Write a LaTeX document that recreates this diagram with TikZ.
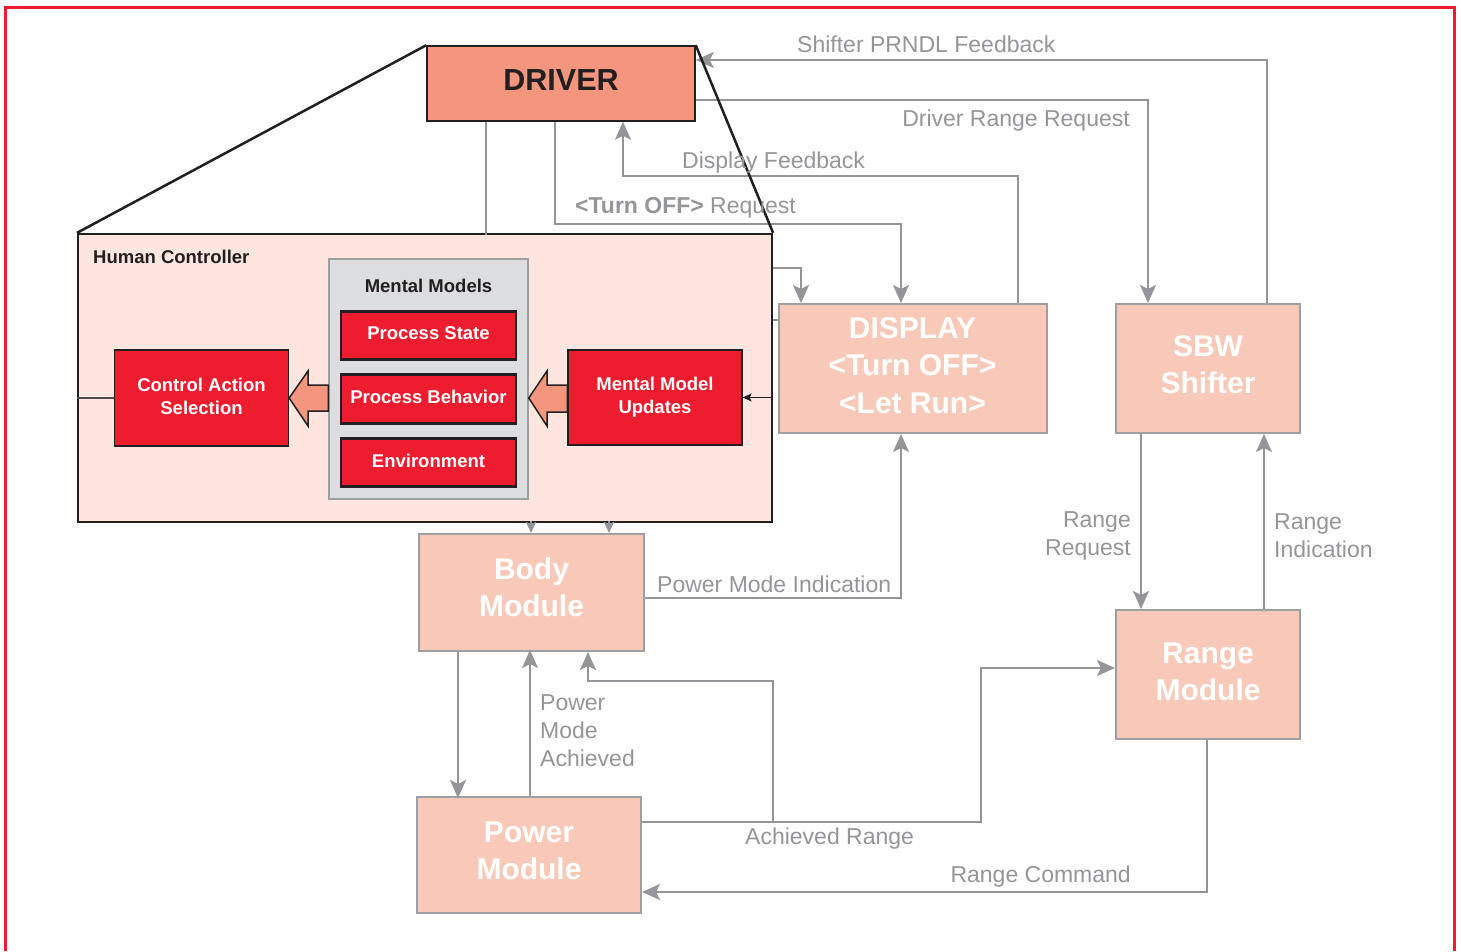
\documentclass[tikz,border=0pt]{standalone}
\usepackage{fontspec}
\setmainfont{Liberation Sans}
\usetikzlibrary{arrows.meta}

\definecolor{framered}{RGB}{237,28,46}
\definecolor{inkdark}{RGB}{35,31,32}
\definecolor{wiregray}{RGB}{147,149,152}
\definecolor{edgegray}{RGB}{157,159,162}
\definecolor{driverfill}{RGB}{244,150,126}
\definecolor{modfill}{RGB}{248,201,184}
\definecolor{hcfill}{RGB}{253,230,223}
\definecolor{mmfill}{RGB}{220,221,223}
\definecolor{actred}{RGB}{237,28,46}

\tikzset{
  % extra depth under the last text line moves the label up inside its box
  textlift/.style={execute at end node={\rule[-#1]{0pt}{0pt}}},
  modbox/.style={draw=edgegray, line width=2pt, fill=modfill, text=white,
    font=\bfseries\fontsize{30}{37}\selectfont, align=center, inner sep=0pt},
  redbox/.style={draw=inkdark, fill=actred, text=white,
    font=\bfseries\fontsize{18.5}{23}\selectfont, align=center, inner sep=0pt, textlift=4pt},
  conn/.style={draw=wiregray, line width=2.2pt},
  flow/.style={conn, -{Stealth[length=18pt,width=16pt,inset=4pt]}},
  stub/.style={conn, -{Stealth[length=11pt,width=10pt,inset=2pt]}},
  wlabel/.style={text=wiregray, font=\fontsize{23}{28}\selectfont, inner sep=0pt},
  blockarrow/.style={fill=driverfill, draw=inkdark, line width=1.5pt, line join=miter},
}

\begin{document}
\begin{tikzpicture}[x=1pt,y=-1pt]
\useasboundingbox (0,0) rectangle (1461,951);

% outer red frame (open at the bottom)
\draw[framered, line width=3pt] (5,951) -- (5,7) -- (1454,7) -- (1454,951);

% ---- human controller -------------------------------------------------
\node[draw=inkdark, line width=2.2pt, fill=hcfill, minimum width=694, minimum height=288,
      inner sep=0pt] (hc) at (425,378) {};
\node[anchor=base west, inner sep=0pt, text=inkdark,
      font=\bfseries\fontsize{18.5}{22}\selectfont] (hctitle) at (93,263) {Human Controller};

\node[draw=edgegray, line width=1.5pt, fill=mmfill, minimum width=199, minimum height=240,
      inner sep=0pt] (mm) at (428.5,379) {};
\node[anchor=base, inner sep=0pt, text=inkdark,
      font=\bfseries\fontsize{18.5}{22}\selectfont] (mmtitle) at (428.5,292) {Mental Models};

\node[redbox, line width=2.8pt, minimum width=175, minimum height=48] (ps)  at (428.5,335.5) {Process State};
\node[redbox, line width=2.8pt, minimum width=175, minimum height=49] (pb)  at (428.5,399) {Process Behavior};
\node[redbox, line width=2.8pt, minimum width=175, minimum height=48] (env) at (428.5,462.5) {Environment};

\node[redbox, line width=1.3pt, minimum width=174, minimum height=96] (cas) at (201.5,398) {Control Action\\Selection};
\node[redbox, line width=1.3pt, minimum width=174, minimum height=95] (mmu) at (655,397.5) {Mental Model\\Updates};

% wide hollow arrows inside the controller
\draw[blockarrow] (cas.east) -- (308,371) -- (308,385) -- (mm.west |- 0,385)
  -- (mm.west |- 0,411) -- (308,411) -- (308,426) -- cycle;
\draw[blockarrow] (mm.east |- 0,398) -- (547,371) -- (547,385) -- (mmu.west |- 0,385)
  -- (mmu.west |- 0,412) -- (547,412) -- (547,426) -- cycle;

% ---- controlled system -------------------------------------------------
\node[draw=inkdark, line width=1.5pt, fill=driverfill, minimum width=268, minimum height=75,
      inner sep=0pt, text=inkdark, font=\bfseries\fontsize{30.5}{36}\selectfont, textlift=6pt] (driver) at (561,83.5) {DRIVER};

\node[modbox, font=\bfseries\fontsize{30}{37.5}\selectfont, textlift=6pt, minimum width=268, minimum height=129] (display) at (912.5,368.5)
  {DISPLAY\\<Turn OFF>\\<Let Run>};
\node[modbox, textlift=8pt,  minimum width=184, minimum height=129] (sbw)   at (1208,368.5) {SBW\\Shifter};
\node[modbox, textlift=10pt, minimum width=225, minimum height=117] (body)  at (531.5,592.5) {Body\\Module};
\node[modbox, textlift=8pt,  minimum width=224, minimum height=116] (power) at (529,855) {Power\\Module};
\node[modbox, textlift=5pt,  minimum width=184, minimum height=129] (range) at (1208,674.5) {Range\\Module};

% ---- connectors --------------------------------------------------------
\draw[flow] ([xshift=59]sbw.north) |- ([yshift=23.5]driver.east);
\draw[flow] ([yshift=-16.5]driver.east) -| ([xshift=-60]sbw.north);
\draw[flow] ([xshift=105.5]display.north) -- ++(0,-127) -| ([xshift=62]driver.south);
\draw[flow] ([xshift=-6]driver.south) -- ++(0,102) -| ([xshift=-11.5]display.north);
\draw[conn] ([xshift=-75]driver.south) -- ++(0,113);

\draw[flow] ([yshift=110]hc.east) -| ([xshift=-111.5]display.north);
\draw[conn] ([yshift=58]hc.east) -- ([yshift=48.5]display.west);
\draw[draw=inkdark, line width=1.3pt, -{Stealth[length=9pt,width=8pt,inset=2pt]}] (hc.east |- mmu.east) -- (mmu.east);
\draw[draw=inkdark!80, line width=1.3pt] (hc.west |- cas.west) -- (cas.west);

\draw[flow] ([yshift=-5.5]body.east) -| ([xshift=-11.5]display.south);
\draw[stub] ([xshift=-0.5,yshift=12]body.north) -- ([xshift=-0.5]body.north);
\draw[stub] ([xshift=77.5,yshift=12]body.north) -- ([xshift=77.5]body.north);

\draw[flow] ([xshift=-73.5]body.south) -- ++(0,146);
\draw[flow] ([xshift=1]power.north) -- ++(0,-146);

\draw[flow] ([yshift=33]power.east) -- ++(339,0) |- ([yshift=6.5]range.west);
\draw[flow] ([yshift=33]power.east) ++(131,0) -- ++(0,-141) -| ([xshift=56.5]body.south);
\draw[flow] ([xshift=-1]range.south) |- ([yshift=-37]power.east);

\draw[flow] ([xshift=-67]sbw.south) -- ([xshift=-67]range.north);
\draw[flow] ([xshift=56]range.north) -- ([xshift=56]sbw.south);

% zoom lines from the driver to its controller model
\draw[inkdark, line width=2.5pt] (driver.north west) -- (hc.north west);
\draw[inkdark, line width=2.5pt] (driver.north east) -- (hc.north east);

% ---- connector labels ---------------------------------------------------
\node[wlabel, anchor=base west] (lprndl) at (797,52) {Shifter PRNDL Feedback};
\node[wlabel, anchor=base east] (ldrr)   at (1130,126) {Driver Range Request};
\node[wlabel, anchor=base west] (ldisp)  at (682,168) {Display Feedback};
\node[wlabel, anchor=base west] (lturn)  at (575,213) {{\bfseries<Turn OFF>} Request};
\node[wlabel, anchor=base west] (lpmi)   at (657,592) {Power Mode Indication};
\node[wlabel, anchor=north west, align=left] (lpma) at (540,694) {Power\\Mode\\Achieved};
\node[wlabel, anchor=north east, align=right] (lrreq) at (1131,511) {Range\\Request};
\node[wlabel, anchor=north west, align=left] (lrind) at (1274,513) {Range\\Indication};
\node[wlabel, anchor=base west] (lach)   at (745,844) {Achieved Range};
\node[wlabel, anchor=base east] (lrcmd)  at (1131,882) {Range Command};
\end{tikzpicture}
\end{document}
